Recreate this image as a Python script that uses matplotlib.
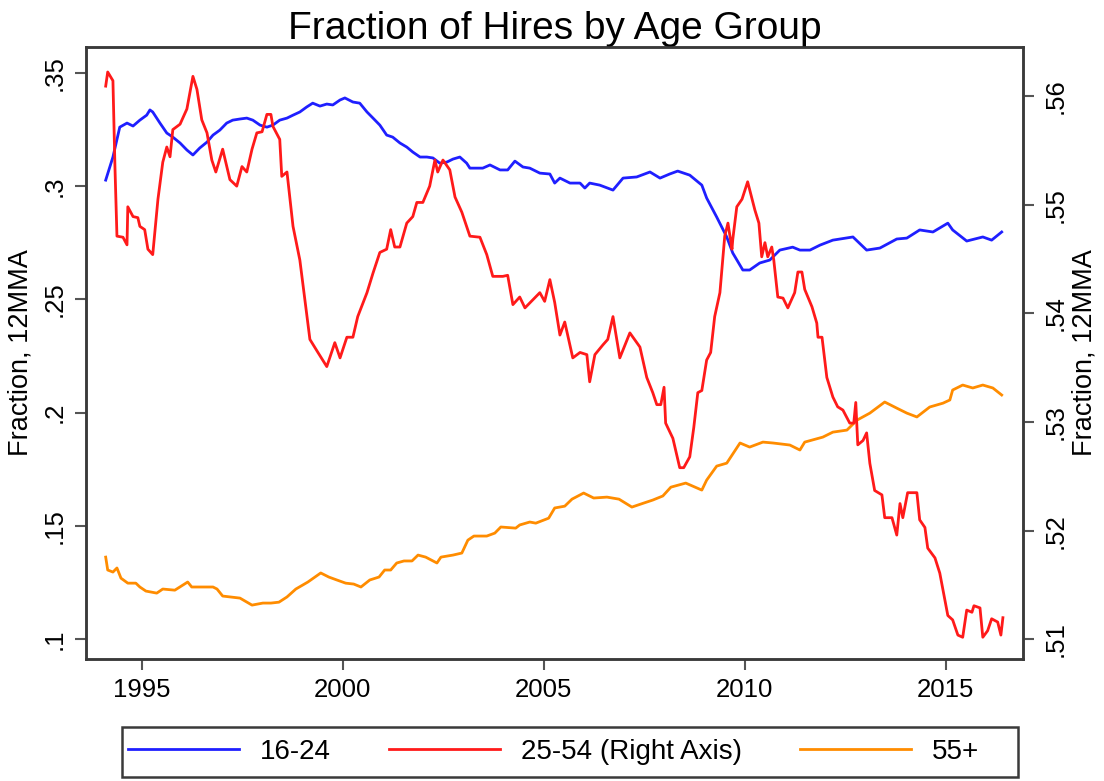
import matplotlib.pyplot as plt
from matplotlib.patches import Rectangle
from matplotlib.ticker import FixedLocator

# 16-24, left axis
yr_young = [1994.10, 1994.28, 1994.45, 1994.63, 1994.78, 1994.95, 1995.12, 1995.20, 1995.27, 1995.45,
            1995.62, 1995.77, 1995.95, 1996.12, 1996.27, 1996.44, 1996.62, 1996.77, 1996.94, 1997.11,
            1997.26, 1997.44, 1997.61, 1997.76, 1997.94, 1998.11, 1998.26, 1998.43, 1998.61, 1998.76,
            1998.93, 1999.10, 1999.25, 1999.43, 1999.60, 1999.75, 1999.93, 2000.05, 2000.25, 2000.42,
            2000.60, 2000.75, 2000.92, 2001.09, 2001.24, 2001.42, 2001.59, 2001.74, 2001.92, 2002.09,
            2002.24, 2002.41, 2002.59, 2002.74, 2002.91, 2003.08, 2003.16, 2003.48, 2003.66, 2003.91,
            2004.10, 2004.28, 2004.48, 2004.65, 2004.90, 2005.15, 2005.27, 2005.40, 2005.65, 2005.90,
            2006.02, 2006.14, 2006.39, 2006.72, 2006.97, 2007.31, 2007.64, 2007.89, 2008.13, 2008.33,
            2008.63, 2008.93, 2009.05, 2009.30, 2009.55, 2009.70, 2009.95, 2010.12, 2010.37, 2010.62,
            2010.87, 2011.19, 2011.37, 2011.62, 2011.87, 2012.19, 2012.69, 2013.03, 2013.36, 2013.78,
            2014.03, 2014.35, 2014.68, 2015.05, 2015.17, 2015.52, 2015.92, 2016.14, 2016.39]
young = [.3027, .3129, .3261, .3279, .3266, .3292, .3314, .3337, .3328, .3279,
         .3235, .3217, .3191, .3160, .3138, .3169, .3195, .3226, .3248, .3279,
         .3292, .3297, .3301, .3292, .3270, .3261, .3270, .3292, .3301, .3314,
         .3328, .3350, .3367, .3354, .3363, .3359, .3381, .3390, .3372, .3367,
         .3328, .3301, .3270, .3226, .3217, .3191, .3173, .3151, .3129, .3129,
         .3125, .3102, .3107, .3120, .3129, .3102, .3080, .3080, .3094, .3072,
         .3072, .3111, .3085, .3080, .3058, .3054, .3014, .3036, .3014, .3014,
         .2992, .3014, .3005, .2983, .3036, .3041, .3063, .3036, .3054, .3067,
         .3049, .3005, .2948, .2864, .2776, .2705, .2630, .2630, .2661, .2674,
         .2718, .2731, .2718, .2718, .2740, .2762, .2776, .2718, .2727, .2767,
         .2771, .2807, .2798, .2837, .2807, .2758, .2776, .2762, .2798]

# 25-54, right axis
yr_prime = [1994.10, 1994.15, 1994.28, 1994.33, 1994.38, 1994.53, 1994.63, 1994.65, 1994.78, 1994.90,
            1994.95, 1995.07, 1995.15, 1995.27, 1995.40, 1995.52, 1995.62, 1995.70, 1995.77, 1995.95,
            1996.12, 1996.27, 1996.37, 1996.49, 1996.62, 1996.74, 1996.84, 1997.01, 1997.19, 1997.36,
            1997.49, 1997.61, 1997.74, 1997.86, 1997.99, 1998.11, 1998.21, 1998.26, 1998.43, 1998.48,
            1998.61, 1998.76, 1998.93, 1999.18, 1999.38, 1999.60, 1999.80, 1999.93, 2000.10, 2000.25,
            2000.37, 2000.60, 2000.75, 2000.92, 2001.09, 2001.19, 2001.29, 2001.42, 2001.59, 2001.74,
            2001.84, 2001.99, 2002.16, 2002.29, 2002.36, 2002.49, 2002.66, 2002.79, 2002.96, 2003.16,
            2003.41, 2003.58, 2003.73, 2003.98, 2004.10, 2004.23, 2004.40, 2004.53, 2004.90, 2005.02,
            2005.15, 2005.27, 2005.40, 2005.52, 2005.72, 2005.90, 2006.07, 2006.14, 2006.27, 2006.47,
            2006.59, 2006.72, 2006.89, 2007.14, 2007.39, 2007.56, 2007.71, 2007.81, 2007.91, 2007.99,
            2008.03, 2008.21, 2008.38, 2008.48, 2008.63, 2008.73, 2008.83, 2008.93, 2009.05, 2009.15,
            2009.25, 2009.38, 2009.50, 2009.58, 2009.68, 2009.70, 2009.80, 2009.93, 2010.07, 2010.25,
            2010.35, 2010.42, 2010.50, 2010.57, 2010.67, 2010.72, 2010.82, 2010.95, 2011.07, 2011.24,
            2011.32, 2011.42, 2011.49, 2011.67, 2011.79, 2011.82, 2011.92, 2012.04, 2012.19, 2012.31,
            2012.44, 2012.61, 2012.71, 2012.76, 2012.81, 2012.94, 2013.03, 2013.11, 2013.23, 2013.41,
            2013.48, 2013.66, 2013.78, 2013.86, 2013.93, 2014.05, 2014.28, 2014.35, 2014.48, 2014.55,
            2014.73, 2014.85, 2015.05, 2015.17, 2015.30, 2015.42, 2015.52, 2015.65, 2015.70, 2015.85,
            2015.92, 2016.04, 2016.14, 2016.29, 2016.37, 2016.42]
prime = [.5609, .5622, .5614, .5535, .5471, .5470, .5463, .5498, .5489, .5488,
         .5480, .5477, .5459, .5454, .5505, .5539, .5553, .5544, .5569, .5574,
         .5588, .5618, .5606, .5578, .5566, .5541, .5530, .5551, .5523, .5517,
         .5535, .5530, .5551, .5566, .5567, .5583, .5583, .5572, .5560, .5526,
         .5530, .5480, .5449, .5376, .5364, .5351, .5373, .5359, .5378, .5378,
         .5397, .5419, .5437, .5456, .5459, .5477, .5461, .5461, .5483, .5489,
         .5502, .5502, .5517, .5541, .5530, .5541, .5532, .5507, .5493, .5471,
         .5470, .5454, .5434, .5434, .5435, .5408, .5415, .5405, .5419, .5411,
         .5431, .5410, .5380, .5392, .5359, .5364, .5362, .5337, .5362, .5371,
         .5376, .5397, .5359, .5382, .5369, .5341, .5327, .5316, .5316, .5332,
         .5299, .5285, .5258, .5258, .5268, .5295, .5327, .5329, .5357, .5364,
         .5397, .5419, .5471, .5483, .5459, .5468, .5498, .5505, .5521, .5495,
         .5483, .5452, .5465, .5452, .5461, .5449, .5415, .5414, .5405, .5419,
         .5438, .5438, .5422, .5406, .5391, .5378, .5378, .5341, .5323, .5314,
         .5311, .5299, .5299, .5318, .5279, .5283, .5290, .5262, .5237, .5233,
         .5212, .5212, .5196, .5225, .5212, .5235, .5235, .5210, .5203, .5184,
         .5175, .5161, .5122, .5118, .5104, .5102, .5127, .5125, .5131, .5129,
         .5102, .5108, .5119, .5116, .5104, .5120]

# 55+, left axis
yr_old = [1994.10, 1994.15, 1994.28, 1994.38, 1994.48, 1994.65, 1994.85, 1994.95, 1995.10, 1995.37,
          1995.52, 1995.82, 1996.14, 1996.24, 1996.54, 1996.77, 1996.87, 1997.01, 1997.44, 1997.74,
          1998.01, 1998.21, 1998.41, 1998.61, 1998.83, 1999.13, 1999.45, 1999.65, 1999.85, 2000.07,
          2000.27, 2000.45, 2000.67, 2000.90, 2001.04, 2001.19, 2001.34, 2001.52, 2001.72, 2001.87,
          2002.06, 2002.34, 2002.44, 2002.74, 2002.96, 2003.11, 2003.26, 2003.58, 2003.78, 2003.93,
          2004.30, 2004.40, 2004.65, 2004.80, 2005.12, 2005.27, 2005.52, 2005.70, 2005.99, 2006.24,
          2006.57, 2006.87, 2007.19, 2007.49, 2007.71, 2007.96, 2008.16, 2008.53, 2008.93, 2009.05,
          2009.30, 2009.55, 2009.88, 2010.12, 2010.45, 2010.70, 2011.12, 2011.37, 2011.49, 2011.94,
          2012.19, 2012.54, 2012.79, 2013.11, 2013.48, 2013.78, 2014.03, 2014.28, 2014.60, 2014.93,
          2015.10, 2015.17, 2015.42, 2015.67, 2015.92, 2016.17, 2016.39]
old = [.1362, .1305, .1296, .1314, .1269, .1247, .1247, .1230, .1212, .1203,
       .1221, .1216, .1252, .1230, .1230, .1230, .1221, .1190, .1181, .1150,
       .1159, .1159, .1163, .1186, .1221, .1252, .1292, .1274, .1261, .1247,
       .1243, .1230, .1261, .1274, .1305, .1305, .1336, .1345, .1345, .1371,
       .1362, .1336, .1362, .1371, .1380, .1437, .1455, .1455, .1468, .1495,
       .1490, .1504, .1517, .1512, .1534, .1579, .1587, .1618, .1645, .1623,
       .1627, .1618, .1583, .1601, .1614, .1632, .1671, .1689, .1658, .1702,
       .1764, .1777, .1866, .1848, .1870, .1866, .1857, .1835, .1870, .1892,
       .1914, .1923, .1967, .1998, .2047, .2020, .1998, .1981, .2025, .2042,
       .2056, .2100, .2122, .2109, .2122, .2109, .2078]

left_ticks = [.1, .15, .2, .25, .3, .35]
left_labels = ['.1', '.15', '.2', '.25', '.3', '.35']
right_ticks = [.51, .52, .53, .54, .55, .56]
right_labels = ['.51', '.52', '.53', '.54', '.55', '.56']
year_ticks = [1995, 2000, 2005, 2010, 2015]

plt.rcParams['font.family'] = ['Liberation Sans', 'DejaVu Sans']
axis_col = '#3a3a3a'

fig = plt.figure(figsize=(11.04, 7.81), dpi=100)
ax = fig.add_axes([86/1104, 122/781, 937/1104, 612/781])
ax2 = ax.twinx()

l1, = ax.plot(yr_young, young, color='#1f1fff', lw=2, label='16-24')
l3, = ax.plot(yr_old, old, color='#ff8c00', lw=2, label='55+')
l2, = ax2.plot(yr_prime, prime, color='#ff1a1a', lw=2, label='25-54 (Right Axis)')

ax.set_xlim(1993.61, 2016.92)
ax.set_ylim(0.0912, 0.3615)
ax2.set_ylim(0.5082, 0.5645)

ax.xaxis.set_major_locator(FixedLocator(year_ticks))
ax.set_xticklabels([str(y) for y in year_ticks])
ax.yaxis.set_major_locator(FixedLocator(left_ticks))
ax.set_yticklabels(left_labels, rotation=90, va='center')
ax2.yaxis.set_major_locator(FixedLocator(right_ticks))
ax2.set_yticklabels(right_labels, rotation=90, va='center')

for a in (ax, ax2):
    for s in a.spines.values():
        s.set_color(axis_col)
        s.set_linewidth(1.8)
    a.tick_params(length=8, width=1.5, color='#555555', labelsize=18.5, pad=6)

ax.tick_params(axis='y', pad=6)
ax2.tick_params(axis='y', pad=7)

ax.set_ylabel('Fraction, 12MMA', fontsize=19.5)
ax.yaxis.set_label_coords(-0.056, 0.5)
ax2.set_ylabel('Fraction, 12MMA', fontsize=19.5, rotation=90)
ax2.yaxis.set_label_coords(1.052, 0.5)
ax.set_title('Fraction of Hires by Age Group', fontsize=28, pad=5)

# legend box spans the plot width, entries packed from the left
fig.patches.append(Rectangle((122/1104, 4/781), 896/1104, 50/781, transform=fig.transFigure,
                             fill=False, edgecolor=axis_col, linewidth=1.8))
fig.legend(handles=[l1, l2, l3], loc='center left', ncol=3,
           bbox_to_anchor=(122/1104, 29/781), frameon=False,
           fontsize=20, handlelength=4.0, handletextpad=0.75, columnspacing=2.1,
           borderaxespad=0, borderpad=0.2)

fig.savefig('out.png', dpi=100, facecolor='white')
